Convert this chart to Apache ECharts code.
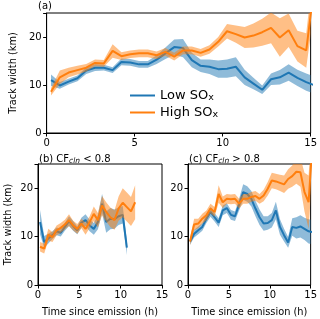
<!DOCTYPE html>
<html><head><meta charset="utf-8">
<script src="https://cdn.jsdelivr.net/npm/echarts@6/dist/echarts.min.js"></script>
<style>html,body{margin:0;padding:0;background:#fff}#c{width:320px;height:319px}</style>
</head><body><div id="c"></div>
<script>
// time since emission (h), bin centres
const hours = [0.25,0.75,1.25,1.75,2.25,2.75,3.25,3.75,4.25,4.75,5.25,5.75,6.25,6.75,7.25,7.75,8.25,8.75,9.25,9.75,10.25,10.75,11.25,11.75,12.25,12.75,13.25,13.75,14.25,14.75,15.25];

// (a) all
const lowA   = [11.0,9.9,10.7,11.4,13.0,13.6,13.6,13.1,14.8,14.7,14.3,14.3,15.3,16.6,17.9,17.7,15.2,14.0,13.8,13.3,13.4,13.8,11.6,10.3,9.0,11.2,11.6,12.6,11.5,10.6,9.9];
const lowErrA  = [1.2,0.7,0.6,0.6,0.7,0.7,0.6,0.6,0.7,0.7,0.7,0.7,0.9,1.2,1.6,1.9,1.5,1.3,1.5,1.8,1.9,2.0,1.6,1.2,0.9,1.2,1.5,1.7,1.7,1.8,1.8];
const highA  = [8.6,11.6,12.6,13.1,13.6,14.6,14.5,17.1,16.0,16.4,16.6,16.6,16.2,16.9,15.9,17.2,17.2,16.7,17.4,19.0,21.2,20.6,19.9,20.3,21.0,21.9,19.9,21.4,18.1,17.2,32.0];
const highErrA = [0.8,1.4,1.0,0.9,0.8,0.7,0.7,1.4,0.8,0.8,0.8,0.8,0.8,0.8,0.8,0.8,0.8,0.8,0.9,1.0,1.5,1.8,2.2,2.5,2.8,3.2,4.0,3.5,3.2,3.6,5.0];

// (b) CF < 0.8
const lowB   = [13.0,8.9,9.6,10.3,11.1,10.8,12.0,13.2,12.2,11.3,12.9,13.4,12.3,11.6,13.0,16.8,13.0,13.7,13.6,14.2,14.5,7.7];
const lowErrB  = [2.5,1.2,1.0,0.8,0.8,0.8,0.8,1.0,1.0,0.8,1.0,1.2,1.2,1.2,1.5,2.0,2.2,2.2,2.0,1.8,1.8,1.5];
const highB  = [7.9,7.5,10.4,9.9,11.3,11.8,12.5,13.4,12.3,11.6,12.7,11.6,13.0,14.7,13.4,16.4,15.1,14.0,13.4,15.8,17.0,16.1,15.2,17.1];
const highErrB = [1.0,1.0,1.2,1.0,1.0,1.0,1.0,1.2,1.0,1.0,1.0,1.2,1.2,1.5,1.5,2.0,2.0,2.0,2.0,2.5,3.0,3.0,3.0,3.5];

// (c) CF > 0.8
const lowC   = [9.0,10.6,11.3,12.0,13.7,15.1,14.0,12.9,15.4,15.9,14.5,14.2,16.6,19.2,18.8,17.8,15.8,14.0,12.7,12.8,13.4,15.4,12.0,10.3,8.8,12.0,11.8,12.1,11.6,11.1,10.9];
const lowErrC  = [0.7,0.8,0.8,0.8,0.9,1.0,0.9,0.9,1.0,1.0,1.0,1.0,1.2,1.6,1.6,1.6,1.6,1.6,1.5,1.4,1.5,1.8,1.6,1.3,1.1,1.8,2.2,2.3,2.3,2.5,2.5];
const highC  = [9.0,12.5,12.7,13.7,14.4,15.8,15.1,18.8,17.1,17.8,17.7,17.8,16.8,17.8,17.8,18.2,18.4,17.8,18.5,19.9,21.6,21.4,21.1,20.8,21.9,22.5,23.4,23.3,19.2,17.1,30.0];
const highErrC = [0.8,1.2,1.0,1.0,1.0,1.0,1.0,1.8,1.2,1.0,1.0,1.0,1.0,1.0,1.0,1.0,1.0,1.0,1.2,1.4,1.6,1.6,1.7,1.8,2.0,2.2,2.5,3.0,4.0,5.5,6.0];

const xTicks = [0,5,10,15];
const yTicks = [0,10,20];

const BLUE = '#1f77b4', ORANGE = '#ff7f0e';
const FONT = 'DejaVu Sans';

function group(idx, name, mean, err, color, z){
  const band = mean.map((m,i)=>[hours[i], m-err[i], m+err[i]]);
  const line = mean.map((m,i)=>[hours[i], m]);
  return [
    {type:'custom', name:'band'+idx+name, xAxisIndex:idx, yAxisIndex:idx, data:band,
     encode:{x:0, y:[1,2]}, clip:true, silent:true, z, animation:false,
     renderItem:function(params, api){
       if (params.dataIndex !== 0) return null;
       const top = band.map(d=>api.coord([d[0], d[2]]));
       const bot = band.map(d=>api.coord([d[0], d[1]])).reverse();
       const cs = params.coordSys;
       return {type:'group', children:[{
         type:'polygon', shape:{points: top.concat(bot)},
         style:{fill:color, opacity:0.5, stroke:null}
       }], clipPath:{type:'rect', shape:{x:cs.x, y:cs.y, width:cs.width, height:cs.height}}};
     }},
    {type:'line', name, xAxisIndex:idx, yAxisIndex:idx, data:line, symbol:'none',
     lineStyle:{color, width:2}, itemStyle:{color}, z:z+1, animation:false, clip:true}
  ];
}

const grids = [
  {left:38, top:13, width:274, height:120},
  {left:38, top:164, width:124, height:121},
  {left:188, top:164, width:124, height:121}
].map(g=>Object.assign(g,{show:true, borderColor:'#000', borderWidth:1, containLabel:false}));

const axLabel = {color:'#000', fontFamily:FONT, fontSize:10};
const xAxes = [0,1,2].map(i=>({
  type:'value', gridIndex:i, min:0, max:15, interval:5,
  axisLine:{show:true, lineStyle:{color:'#000', width:1}},
  axisTick:{show:true, inside:false, length:3.5, lineStyle:{color:'#000'}},
  axisLabel:Object.assign({margin:5, formatter:v=>xTicks.includes(v)?String(v):''}, axLabel),
  splitLine:{show:false},
  name: i>0 ? 'Time since emission (h)' : '',
  nameLocation:'middle', nameGap:22,
  nameTextStyle:{color:'#000', fontFamily:FONT, fontSize:9.8}
}));
const yAxes = [0,1,2].map(i=>({
  type:'value', gridIndex:i, min:0, max:25, interval:10,
  axisLine:{show:true, lineStyle:{color:'#000', width:1}},
  axisTick:{show:true, inside:false, length:3.5, lineStyle:{color:'#000'}},
  axisLabel:Object.assign({margin:5, formatter:v=>yTicks.includes(v)?String(v):''}, axLabel),
  splitLine:{show:false},
  name: i<2 ? 'Track width (km)' : '',
  nameLocation:'middle', nameGap:25, nameRotate:90,
  nameTextStyle:{color:'#000', fontFamily:FONT, fontSize:9.8}
}));

const series = [].concat(
  group(0,'Low',lowA,lowErrA,BLUE,2),
  group(0,'High',highA,highErrA,ORANGE,4),
  group(1,'Low',lowB,lowErrB,BLUE,2),
  group(1,'High',highB,highErrB,ORANGE,4),
  group(2,'Low',lowC,lowErrC,BLUE,2),
  group(2,'High',highC,highErrC,ORANGE,4)
);

const titleRich = {
  n:{fontSize:10, fontFamily:FONT, fontWeight:'normal', color:'#000'},
  s:{fontSize:7.5, fontFamily:FONT, fontWeight:'normal', fontStyle:'italic', color:'#000', verticalAlign:'bottom', padding:[4,0,0,0]}
};

const option = {
  animation:false,
  backgroundColor:'#fff',
  title:[
    {text:'{n|(a)}', left:38, top:1, padding:0, textStyle:{fontWeight:'normal', rich:titleRich}},
    {text:'{n|(b) CF}{s|cln}{n| < 0.8}', left:39, top:153, padding:0, textStyle:{fontWeight:'normal', rich:titleRich}},
    {text:'{n|(c) CF}{s|cln}{n| > 0.8}', left:189, top:153, padding:0, textStyle:{fontWeight:'normal', rich:titleRich}}
  ],
  legend:{
    data:['Low','High'], orient:'vertical', left:130, top:89, itemGap:3, padding:0,
    itemWidth:25, itemHeight:2, icon:'rect', selectedMode:false,
    formatter:n=> n==='Low' ? '{t|Low SO}{s|x}' : '{t|High SO}{s|x}',
    textStyle:{rich:{
      t:{fontSize:13, fontFamily:FONT, color:'#000'},
      s:{fontSize:9.5, fontFamily:FONT, color:'#000', verticalAlign:'bottom', padding:[5,0,0,0]}
    }}
  },
  grid:grids, xAxis:xAxes, yAxis:yAxes, series
};

const chart = echarts.init(document.getElementById('c'), null, {renderer:'canvas'});
chart.setOption(option);
</script></body></html>
